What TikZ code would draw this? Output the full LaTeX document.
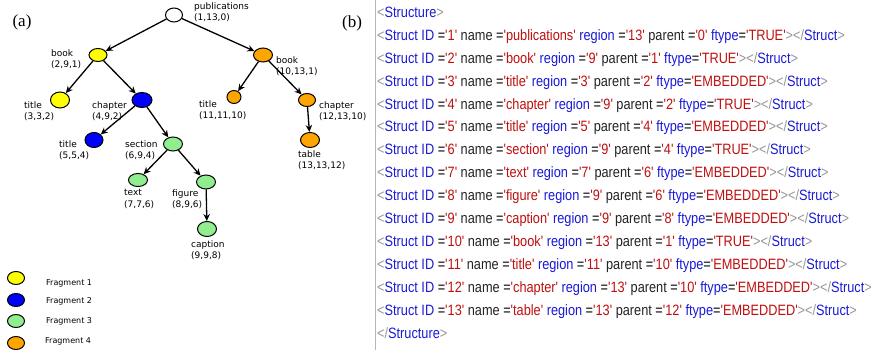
\documentclass[tikz,border=0pt]{standalone}
\usepackage{fontspec}
\setmainfont{Liberation Serif}
\newfontfamily\treefont{DejaVu Sans}
\newfontfamily\xmlfont[FakeStretch=0.85,Ligatures=TeXOff]{Liberation Sans}
\usetikzlibrary{shapes.geometric,arrows.meta,positioning}

\definecolor{fragyellow}{RGB}{255,255,0}
\definecolor{fragblue}{RGB}{0,0,255}
\definecolor{fraggreen}{RGB}{144,238,144}
\definecolor{fragorange}{RGB}{255,165,0}
\definecolor{xmlblue}{RGB}{25,25,215}
\definecolor{xmlred}{RGB}{190,15,15}
\definecolor{xmlgrey}{RGB}{150,150,150}
\definecolor{xmlink}{RGB}{35,35,35}

% pieces of one markup line
\newcommand{\xlt}{{\color{xmlgrey}<}}
\newcommand{\xgt}{{\color{xmlgrey}>}}
\newcommand{\xname}[2]{{\color{#1}#2}}
\newcommand{\xval}[1]{{\color{xmlred}'#1'}}
\newcommand{\structline}[5]{\xlt\xname{xmlblue}{Struct} \xname{xmlblue}{ID} =\xval{#1} \xname{xmlink}{name} =\xval{#2} \xname{xmlblue}{region} =\xval{#3} \xname{xmlink}{parent} =\xval{#4} \xname{xmlblue}{ftype}=\xval{#5}\xgt\xlt{\color{xmlgrey}/}\xname{xmlblue}{Struct}\xgt}

\begin{document}
\begin{tikzpicture}[x=1pt,y=-1pt,
        frag/.style={ellipse, draw, line width=1pt, minimum width=19pt, minimum height=14pt, inner sep=0pt},
        fragtag/.style={font=\treefont\fontsize{9}{11.7}\selectfont, align=left, anchor=north west, inner sep=0pt},
        link/.style={draw, -{Stealth[length=7pt,width=6.5pt]}, line width=1.3pt},
        xmlline/.style={font=\xmlfont\fontsize{15}{18}\selectfont, anchor=base west, inner sep=0pt}]
    \useasboundingbox (0,0) rectangle (871,350);

    % (a) fragment tree
    \node [font=\fontsize{17}{20}\selectfont] (pa) at (22,22) {(a)};
    \node [frag, minimum width=17pt] (pub) at (174,15) {};
    \node [frag, fill=fragyellow, minimum width=18pt, minimum height=13pt] (book1) at (98,55) {};
    \node [frag, fill=fragorange] (book2) at (263,55) {};
    \node [frag, fill=fragyellow, minimum height=16pt] (title1) at (60,100) {};
    \node [frag, fill=fragblue, minimum width=20pt, minimum height=15pt] (chapter1) at (142,100) {};
    \node [frag, fill=fragorange, minimum width=14pt, minimum height=13pt] (title2) at (234,97) {};
    \node [frag, fill=fragorange, minimum width=17pt, minimum height=13pt] (chapter2) at (307,100) {};
    \node [frag, fill=fragblue, minimum width=18pt, minimum height=15pt] (title3) at (94,140) {};
    \node [frag, fill=fraggreen] (section) at (173,144) {};
    \node [frag, fill=fragorange, minimum height=15pt] (table) at (310,140) {};
    \node [frag, fill=fraggreen, minimum height=13pt] (text) at (138,180) {};
    \node [frag, fill=fraggreen] (figure) at (206,182) {};
    \node [frag, fill=fraggreen, minimum height=15pt] (caption) at (207,229) {};

    \node [fragtag] (publ) at (194,2) {publications\\(1,13,0)};
    \node [fragtag] (book1l) at (51,49) {book\\(2,9,1)};
    \node [fragtag] (book2l) at (276,56) {book\\(10,13,1)};
    \node [fragtag] (title1l) at (24,101) {title\\(3,3,2)};
    \node [fragtag] (chapter1l) at (92,101) {chapter\\(4,9,2)};
    \node [fragtag] (title2l) at (199,100) {title\\(11,11,10)};
    \node [fragtag] (chapter2l) at (319,101) {chapter\\(12,13,10)};
    \node [fragtag] (title3l) at (59,140) {title\\(5,5,4)};
    \node [fragtag] (sectionl) at (125,140) {section\\(6,9,4)};
    \node [fragtag] (tablel) at (298,150) {table\\(13,13,12)};
    \node [fragtag] (textl) at (124,189) {text\\(7,7,6)};
    \node [fragtag] (figurel) at (172,189) {figure\\(8,9,6)};
    \node [fragtag] (captionl) at (191,240) {caption\\(9,9,8)};

    \path [link] (pub) -- (book1);
    \path [link] (pub) -- (book2);
    \path [link] (book1) -- (title1);
    \path [link] (book1) -- (chapter1);
    \path [link] (chapter1) -- (title3);
    \path [link] (chapter1) -- (section);
    \path [link] (section) -- (text);
    \path [link] (section) -- (figure);
    \path [link] (figure) -- (caption);
    \path [link] (book2) -- (title2);
    \path [link] (book2) -- (chapter2);
    \path [link] (chapter2) -- (table);

    % legend
    \node [frag, fill=fragyellow, minimum width=17pt, minimum height=13pt] (leg1) at (16,278) {};
    \node [frag, fill=fragblue, minimum width=17pt, minimum height=13pt] (leg2) at (16,300) {};
    \node [frag, fill=fraggreen, minimum width=17pt, minimum height=13pt] (leg3) at (16,321) {};
    \node [frag, fill=fragorange, minimum width=17pt, minimum height=13pt] (leg4) at (16,343) {};
    \node [fragtag, anchor=west, font=\treefont\fontsize{8}{10}\selectfont] (leg1l) at (46,283) {Fragment 1};
    \node [fragtag, anchor=west, font=\treefont\fontsize{8}{10}\selectfont] (leg2l) at (46,301) {Fragment 2};
    \node [fragtag, anchor=west, font=\treefont\fontsize{8}{10}\selectfont] (leg3l) at (46,321) {Fragment 3};
    \node [fragtag, anchor=west, font=\treefont\fontsize{8}{10}\selectfont] (leg4l) at (45,341) {Fragment 4};

    % (b) structure listing
    \node [font=\fontsize{17}{20}\selectfont] (pb) at (352,23) {(b)};
    \draw [xmlgrey!70, line width=0.8pt] (375,0) -- (375,350);
    \node [xmlline] (xml0) at (377,17.3) {\xlt\xname{xmlblue}{Structure}\xgt};
    \foreach \id/\nm/\rg/\pr/\ft in {1/publications/13/0/TRUE, 2/book/9/1/TRUE,
            3/title/3/2/EMBEDDED, 4/chapter/9/2/TRUE, 5/title/5/4/EMBEDDED,
            6/section/9/4/TRUE, 7/text/7/6/EMBEDDED, 8/figure/9/6/EMBEDDED,
            9/caption/9/8/EMBEDDED, 10/book/13/1/TRUE, 11/title/11/10/EMBEDDED,
            12/chapter/13/10/EMBEDDED, 13/table/13/12/EMBEDDED}
        \node [xmlline] (xml\id) at (377,{17.3+22.93*\id}) {\structline{\id}{\nm}{\rg}{\pr}{\ft}};
    \node [xmlline] (xml14) at (377,{17.3+22.93*14}) {\xlt{\color{xmlgrey}/}\xname{xmlblue}{Structure}\xgt};
\end{tikzpicture}
\end{document}
